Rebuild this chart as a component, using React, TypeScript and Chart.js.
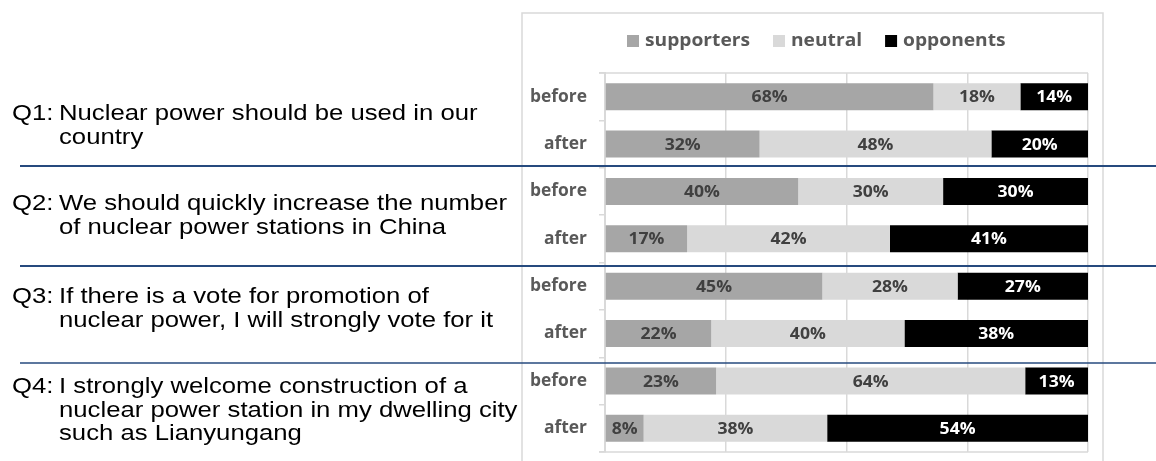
import React, { useEffect, useRef } from "react";
import { Chart, registerables } from "chart.js";

Chart.register(...registerables);

const seriesNames = ["supporters", "neutral", "opponents"];
const seriesColors = ["#a6a6a6", "#d9d9d9", "#000000"];
const labelColors = ["#404040", "#404040", "#ffffff"];

const periods = ["before", "after"];
const questionIds = ["Q1", "Q2", "Q3", "Q4"];
const questionLines = [
  ["Nuclear power should be used in our", "country"],
  ["We should quickly increase the number", "of nuclear power stations in China"],
  ["If there is a vote for promotion of", "nuclear power, I will strongly vote for it"],
  ["I strongly welcome construction of a", "nuclear power station in my dwelling city", "such as Lianyungang"],
];

// order: Q1 before, Q1 after, Q2 before, ...
const supporters = [68, 32, 40, 17, 45, 22, 23, 8];
const neutral = [18, 48, 30, 42, 28, 40, 64, 38];
const opponents = [14, 20, 30, 41, 27, 38, 13, 54];

const xTicks = [0, 25, 50, 75, 100];

const W = 1156;
const H = 461;

function stretchText(
  ctx: CanvasRenderingContext2D,
  text: string,
  x: number,
  y: number,
  font: string,
  color: string,
  align: CanvasTextAlign,
  sx: number
) {
  ctx.save();
  ctx.font = font;
  ctx.fillStyle = color;
  ctx.textAlign = align;
  ctx.textBaseline = "middle";
  ctx.translate(x, y);
  ctx.scale(sx, 1);
  ctx.fillText(text, 0, 0);
  ctx.restore();
}

function scaleFor(ctx: CanvasRenderingContext2D, font: string, ref: string, target: number) {
  ctx.save();
  ctx.font = font;
  const w = ctx.measureText(ref).width;
  ctx.restore();
  return w > 0 ? target / w : 1;
}

const LABEL_FONT = "bold 16px 'Open Sans'";
const CAT_FONT = "bold 17px 'Open Sans'";
const LEG_FONT = "bold 17px 'Open Sans'";
const Q_FONT = "22px 'Liberation Sans'";

const decorPlugin = {
  id: "decor",
  beforeDraw(chart: any) {
    const ctx: CanvasRenderingContext2D = chart.ctx;
    const a = chart.chartArea;
    ctx.save();
    ctx.fillStyle = "#ffffff";
    ctx.fillRect(0, 0, W, H);
    // outer chart frame
    ctx.strokeStyle = "#d9d9d9";
    ctx.lineWidth = 1.5;
    ctx.strokeRect(522, 13, 1103 - 522, 470);
    // top and bottom plot lines
    ctx.beginPath();
    ctx.moveTo(a.left - 6, a.top);
    ctx.lineTo(a.right, a.top);
    ctx.moveTo(a.left - 6, a.bottom);
    ctx.lineTo(a.right, a.bottom);
    ctx.stroke();
    ctx.restore();
  },
  afterDraw(chart: any) {
    const ctx: CanvasRenderingContext2D = chart.ctx;
    const ys = chart.scales.y;
    const a = chart.chartArea;

    // data labels
    const lsx = scaleFor(ctx, LABEL_FONT, "68%", 36);
    chart.data.datasets.forEach((ds: any, di: number) => {
      const meta = chart.getDatasetMeta(di);
      meta.data.forEach((bar: any, i: number) => {
        const v = ds.data[i];
        const cx = (bar.x + bar.base) / 2;
        stretchText(ctx, v + "%", cx, bar.y + 1, LABEL_FONT, labelColors[di], "center", lsx);
      });
    });

    // category labels
    const csx = scaleFor(ctx, CAT_FONT, "before", 57);
    chart.data.labels.forEach((lab: string, i: number) => {
      const y = ys.getPixelForValue(i);
      stretchText(ctx, lab, a.left - 18, y, CAT_FONT, "#595959", "right", csx);
    });

    // legend
    const gsx = scaleFor(ctx, LEG_FONT, "supporters", 105);
    let lx = 627;
    const ly = 41;
    seriesNames.forEach((name, i) => {
      ctx.save();
      ctx.fillStyle = seriesColors[i];
      ctx.fillRect(lx, ly - 6, 12, 12);
      ctx.restore();
      stretchText(ctx, name, lx + 18, ly, LEG_FONT, "#595959", "left", gsx);
      ctx.save();
      ctx.font = LEG_FONT;
      const tw = ctx.measureText(name).width * gsx;
      ctx.restore();
      lx += 18 + tw + 23;
    });

    // questions
    const qsx = scaleFor(ctx, Q_FONT, questionLines[1][0], 448);
    const qTop = [114, 204, 297, 387];
    questionIds.forEach((id, qi) => {
      stretchText(ctx, id + ":", 12, qTop[qi], Q_FONT, "#000000", "left", qsx);
      questionLines[qi].forEach((line, li) => {
        stretchText(ctx, line, 59, qTop[qi] + li * 23.5, Q_FONT, "#000000", "left", qsx);
      });
    });

    // separators
    ctx.save();
    ctx.strokeStyle = "#264a7e";
    const seps = [
      [166, 2],
      [266, 2],
      [363, 1.5],
    ];
    seps.forEach(([y, w]) => {
      ctx.lineWidth = w;
      ctx.beginPath();
      ctx.moveTo(20, y);
      ctx.lineTo(W, y);
      ctx.stroke();
    });
    ctx.restore();
  },
};

export default function App() {
  const ref = useRef<HTMLCanvasElement | null>(null);
  useEffect(() => {
    if (!ref.current) return;
    const labels: string[] = [];
    questionIds.forEach(() => periods.forEach((p) => labels.push(p)));
    const values = [supporters, neutral, opponents];
    const chart = new Chart(ref.current, {
      type: "bar",
      data: {
        labels,
        datasets: seriesNames.map((n, i) => ({
          label: n,
          data: values[i],
          backgroundColor: seriesColors[i],
          borderWidth: 0,
          barPercentage: 0.57,
          categoryPercentage: 1,
        })),
      },
      options: {
        indexAxis: "y",
        responsive: false,
        animation: false,
        devicePixelRatio: 1,
        layout: { padding: { left: 0, right: 1156 - 1088, top: 73, bottom: 9 } },
        plugins: { legend: { display: false }, tooltip: { enabled: false } },
        scales: {
          x: {
            stacked: true,
            min: 0,
            max: 100,
            afterBuildTicks: (s: any) => {
              s.ticks = xTicks.map((v) => ({ value: v }));
            },
            ticks: { display: false },
            grid: { color: "#d9d9d9", lineWidth: 1.5, drawTicks: false },
            border: { display: false },
            afterFit: (s: any) => {
              s.height = 0;
            },
          },
          y: {
            stacked: true,
            ticks: { display: false },
            grid: { drawOnChartArea: false, drawTicks: true, tickLength: 6, color: "#d9d9d9", lineWidth: 1.5, offset: true },
            border: { display: true, color: "#d9d9d9", width: 2 },
            afterFit: (s: any) => {
              s.width = 605;
            },
          },
        },
      } as any,
      plugins: [decorPlugin],
    });
    return () => chart.destroy();
  }, []);
  return (
    <div style={{ position: "fixed", left: 0, top: 0, width: W, height: H, background: "#fff" }}>
      <canvas ref={ref} width={W} height={H} style={{ display: "block" }} />
    </div>
  );
}
